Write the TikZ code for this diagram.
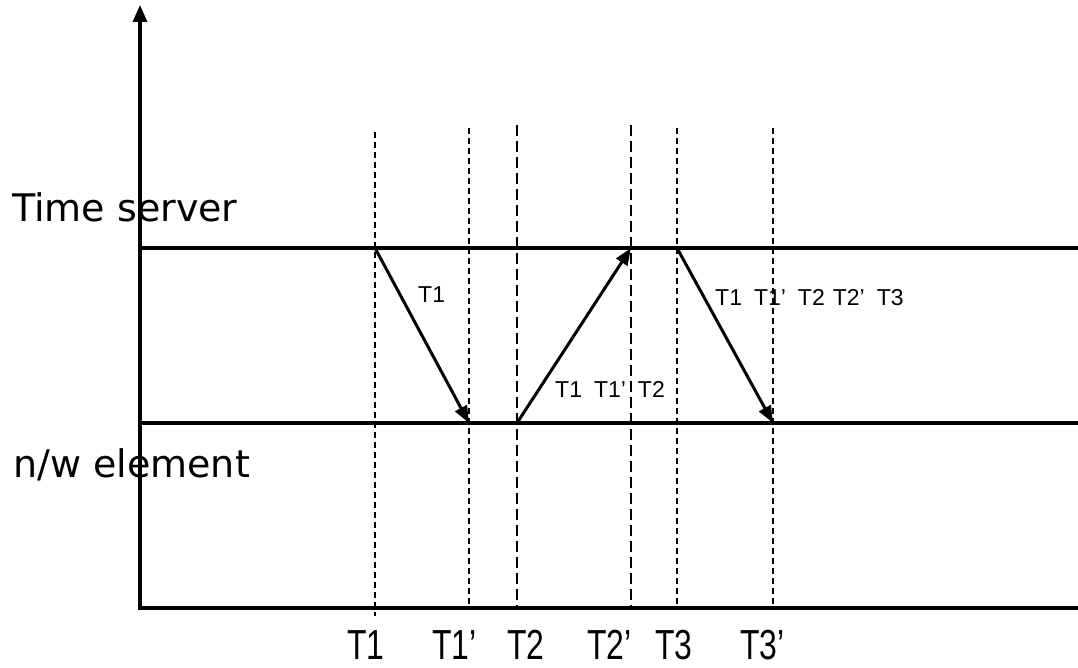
\documentclass[tikz,border=0pt]{standalone}
\usepackage{fontspec}
\usetikzlibrary{arrows.meta}
\newfontfamily\bigfont{DejaVu Sans}
\newfontfamily\arialfont{Liberation Sans}
\newfontfamily\narrowfont[FakeStretch=0.76]{Liberation Sans}
\tikzset{
  axisline/.style={line width=3.2pt},
  mainline/.style={line width=3.2pt},
  msg/.style={line width=3pt, -{Triangle[length=17pt,width=13pt]}},
  guide/.style={line width=1.3pt, dash pattern=on 6pt off 4pt},
  guidelong/.style={line width=1.3pt, dash pattern=on 11pt off 5pt},
  biglabel/.style={anchor=base west, inner sep=0pt, font=\bigfont\fontsize{38}{40}\selectfont},
  ticklabel/.style={anchor=base west, inner sep=0pt, font=\narrowfont\fontsize{42}{44}\selectfont},
  msglabel/.style={anchor=base west, inner sep=0pt, font=\arialfont\fontsize{23}{25}\selectfont}
}
\begin{document}
\begin{tikzpicture}[x=1pt,y=-1pt]
\useasboundingbox (0,0) rectangle (1078,668);
% coordinates
\coordinate (origin) at (140,608);
\coordinate (ytop) at (140,5);
\coordinate (xend) at (1078,608);
\coordinate (tsL) at (140,248);
\coordinate (tsR) at (1078,248);
\coordinate (neL) at (140,423);
\coordinate (neR) at (1078,423);
% guide lines
\coordinate (g1t) at (375,132); \coordinate (g1b) at (375,616);
\coordinate (g2t) at (469,128); \coordinate (g2b) at (469,608);
\coordinate (g3t) at (517,125); \coordinate (g3b) at (517,608);
\coordinate (g4t) at (631,125); \coordinate (g4b) at (631,608);
\coordinate (g5t) at (677,128); \coordinate (g5b) at (677,608);
\coordinate (g6t) at (773,128); \coordinate (g6b) at (773,608);
\draw[guide] (g1t) -- (g1b);
\draw[guide] (g2t) -- (g2b);
\draw[guidelong] (g3t) -- (g3b);
\draw[guidelong] (g4t) -- (g4b);
\draw[guide] (g5t) -- (g5b);
\draw[guide] (g6t) -- (g6b);
% axes
\draw[axisline, -{Triangle[length=17pt,width=14pt]}] (origin) -- (ytop);
\draw[axisline] ([xshift=-1.6pt]origin) -- (xend);
% time lines
\draw[mainline] (tsL) -- (tsR);
\draw[mainline] (neL) -- (neR);
% messages
\coordinate (m1s) at (375,248); \coordinate (m1e) at (469,423);
\coordinate (m2s) at (517,423); \coordinate (m2e) at (631,248);
\coordinate (m3s) at (677,248); \coordinate (m3e) at (773,423);
\draw[msg] (m1s) -- (m1e);
\draw[msg] (m2s) -- (m2e);
\draw[msg] (m3s) -- (m3e);
% labels
\node[biglabel] (ts) at (12,222) {Time server};
\node[biglabel] (ne) at (13,477) {n/w element};
\node[msglabel] (l1) at (418,302) {T1};
\node[msglabel] (l2) at (555,397) {T1\hspace{12pt}T1’\hspace{12pt}T2};
\node[msglabel] (l3) at (715,305) {T1\hspace{12pt}T1’\hspace{12pt}T2\hspace{8pt}T2’\hspace{12pt}T3};
\node[ticklabel] (t1) at (347,659) {T1};
\node[ticklabel] (t1p) at (432,659) {T1’};
\node[ticklabel] (t2) at (507,659) {T2};
\node[ticklabel] (t2p) at (587,659) {T2’};
\node[ticklabel] (t3) at (655,659) {T3};
\node[ticklabel] (t3p) at (740,659) {T3’};
\end{tikzpicture}
\end{document}
